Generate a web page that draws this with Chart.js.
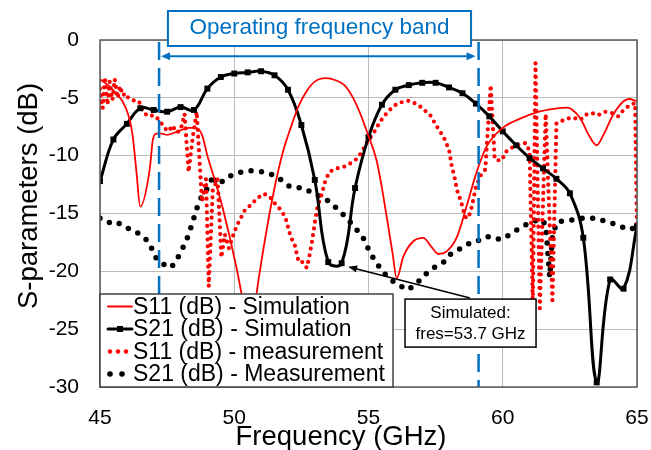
<!DOCTYPE html>
<html>
<head>
<meta charset="utf-8">
<script src="https://cdn.jsdelivr.net/npm/chart.js@4.4.1/dist/chart.umd.min.js"></script>
<style>
  html, body { margin: 0; padding: 0; background: #fff; }
  #wrap { width: 651px; height: 450px; }
</style>
</head>
<body>
<div id="wrap"><canvas id="sparams" width="651" height="450"></canvas></div>
<script>
// S11 simulation (thin red line)
const s11SimFreq = [45.0, 45.3, 45.55, 45.95, 46.2, 46.35, 46.5, 46.85, 46.97, 47.1, 47.3, 47.5, 47.9, 48.3, 48.55, 48.8, 49.0, 49.3, 49.6, 50.0, 50.3, 50.55, 50.85, 51.2, 51.5, 51.8, 52.1, 52.4, 52.7, 53.0, 53.4, 53.8, 54.1, 54.4, 54.7, 55.0, 55.3, 55.5, 55.7, 55.9, 56.05, 56.3, 56.67, 57.04, 57.35, 57.6, 57.9, 58.3, 58.65, 59.03, 59.4, 60.0, 60.65, 61.26, 61.9, 62.4, 62.6, 62.9, 63.2, 63.5, 63.75, 64.1, 64.5, 64.7, 65.0]
const s11SimDb = [-3.4, -3.9, -4.5, -5.8, -8.0, -11.2, -14.4, -11.2, -8.6, -8.1, -8.1, -8.2, -7.9, -7.6, -7.6, -8.2, -10.0, -12.3, -14.8, -18.8, -22.4, -27.0, -21.6, -16.5, -12.8, -9.8, -7.6, -5.7, -4.4, -3.6, -3.3, -3.5, -3.9, -4.9, -6.4, -8.3, -10.4, -12.8, -15.6, -18.5, -20.6, -18.7, -17.4, -17.1, -17.9, -18.5, -18.3, -17.0, -14.4, -11.4, -9.2, -7.6, -6.8, -6.25, -5.95, -5.85, -6.05, -6.8, -8.2, -9.1, -8.2, -6.5, -5.3, -5.1, -5.3]

// S21 simulation (black line with square markers, every 0.5 GHz)
const s21SimFreq = [45.0, 45.5, 46.0, 46.5, 47.0, 47.5, 48.0, 48.5, 49.0, 49.5, 50.0, 50.5, 51.0, 51.5, 52.0, 52.5, 53.0, 53.5, 54.0, 54.5, 55.0, 55.5, 56.0, 56.5, 57.0, 57.5, 58.0, 58.5, 59.0, 59.5, 60.0, 60.5, 61.0, 61.5, 62.0, 62.5, 63.0, 63.5, 64.0, 64.5, 65.0]
const s21SimDb = [-12.2, -8.6, -7.25, -5.9, -6.05, -6.2, -5.8, -6.05, -4.2, -3.2, -2.9, -2.8, -2.7, -3.05, -4.3, -7.35, -12.1, -19.2, -19.3, -12.8, -8.4, -5.6, -4.3, -3.9, -3.7, -3.7, -4.1, -4.6, -5.5, -6.6, -7.9, -9.1, -10.2, -11.1, -12.0, -13.25, -17.1, -29.6, -20.7, -21.5, -16.1]

// S11 measurement (red round dots)
const s11MeasFreq = [45.0, 45.1, 45.18, 45.28, 45.36, 45.46, 45.55, 45.65, 45.75, 45.85, 45.95, 46.05, 46.2, 46.45, 46.6, 46.8, 47.0, 47.2, 47.4, 47.55, 47.7, 47.85, 48.0, 48.15, 48.3, 48.45, 48.6, 48.8, 48.95, 49.05, 49.2, 49.38, 49.52, 49.65, 49.8, 50.0, 50.15, 50.4, 50.6, 50.85, 51.1, 51.3, 51.5, 51.7, 51.9, 52.1, 52.25, 52.4, 52.55, 52.7, 52.78, 52.9, 53.0, 53.1, 53.25, 53.4, 53.55, 53.8, 54.05, 54.3, 54.55, 54.75, 54.95, 55.2, 55.45, 55.65, 55.85, 56.1, 56.5, 56.85, 57.1, 57.3, 57.55, 57.8, 58.0, 58.1, 58.2, 58.3, 58.45, 58.6, 58.72, 58.85, 59.0, 59.2, 59.35, 59.55, 59.7, 59.85, 59.97, 60.1, 60.3, 60.55, 60.85, 61.0, 61.12, 61.22, 61.38, 61.6, 61.85, 62.0, 62.2, 62.4, 62.6, 62.9, 63.05, 63.3, 63.55, 63.8, 64.05, 64.3, 64.5, 64.75, 64.93, 65.0]
const s11MeasDb = [-4.2, -5.9, -3.2, -5.6, -3.6, -5.2, -3.4, -5.0, -4.0, -4.8, -4.6, -5.0, -5.2, -5.3, -6.2, -6.6, -6.5, -6.9, -7.6, -7.9, -7.4, -8.0, -7.8, -6.4, -11.4, -8.5, -6.2, -14.0, -12.0, -21.3, -13.0, -12.0, -18.8, -16.8, -18.0, -16.6, -15.8, -14.7, -14.3, -13.7, -13.3, -13.5, -14.1, -14.6, -15.3, -17.0, -17.7, -19.2, -19.2, -19.7, -18.9, -17.4, -15.8, -14.4, -13.4, -12.1, -11.4, -11.1, -11.0, -10.7, -10.3, -9.7, -8.8, -8.0, -7.0, -6.4, -5.9, -5.45, -5.25, -5.6, -6.1, -6.5, -7.5, -8.4, -9.5, -10.9, -11.8, -13.0, -14.0, -15.3, -15.4, -14.4, -12.7, -11.6, -11.2, -3.9, -10.3, -10.4, -10.4, -9.7, -9.35, -9.1, -8.9, -9.6, -23.0, -2.0, -23.2, -6.4, -22.5, -7.2, -7.0, -6.8, -6.7, -6.9, -6.5, -6.3, -6.5, -6.2, -6.3, -6.6, -6.05, -5.6, -5.45, -16.4]

// S21 measurement (black round dots)
const s21MeasFreq = [45.0, 45.2, 45.4, 45.6, 45.8, 46.05, 46.3, 46.5, 46.7, 46.86, 47.0, 47.1, 47.3, 47.45, 47.6, 47.75, 47.88, 48.1, 48.3, 48.47, 48.6, 48.79, 48.95, 49.1, 49.2, 49.35, 49.45, 49.6, 49.8, 50.0, 50.3, 50.6, 51.1, 51.5, 51.75, 51.95, 52.1, 52.57, 53.07, 53.44, 53.57, 53.9, 54.06, 54.3, 54.56, 54.8, 55.06, 55.3, 55.6, 55.8, 56.17, 56.4, 56.6, 56.86, 57.0, 57.2, 57.35, 57.5, 57.8, 58.0, 58.3, 58.5, 58.9, 59.2, 59.46, 59.75, 60.0, 60.4, 60.77, 61.0, 61.3, 61.45, 61.6, 61.75, 61.85, 62.0, 62.07, 62.5, 62.9, 63.4, 63.9, 64.37, 64.74, 65.0]
const s21MeasDb = [-15.4, -15.7, -15.8, -15.7, -16.0, -16.3, -16.5, -16.85, -17.2, -17.7, -18.4, -18.9, -19.3, -19.5, -19.7, -19.4, -18.9, -17.9, -16.85, -15.6, -14.6, -13.5, -13.0, -12.5, -11.7, -12.4, -12.5, -12.1, -11.8, -11.6, -11.4, -11.3, -11.4, -11.7, -12.1, -12.5, -12.7, -12.8, -13.4, -13.8, -14.1, -14.7, -15.1, -15.7, -16.4, -17.1, -18.4, -19.3, -20.2, -20.7, -21.2, -21.6, -21.4, -20.9, -20.5, -20.1, -19.8, -19.6, -19.2, -18.6, -18.2, -17.9, -17.4, -17.3, -17.0, -17.2, -17.2, -16.6, -16.1, -15.8, -15.55, -15.5, -16.0, -20.5, -17.0, -15.8, -15.7, -15.6, -15.4, -15.4, -15.7, -16.1, -16.4, -16.1]

// operating band edges and annotation anchors (GHz / dB)
const bandEdges = [47.2, 59.1]
const fresPoint = [54.24, -19.6]

const FONT = 'Arial, "Liberation Sans", sans-serif'
const BLUE = '#0070c0'

const toPoints = (xs, ys) => xs.map((x, i) => ({ x: x, y: ys[i] }))

function arrowHead (ctx, x0, y0, x1, y1, len, half) {
  // triangle pointing at (x1, y1) coming from (x0, y0)
  const a = Math.atan2(y1 - y0, x1 - x0)
  ctx.beginPath()
  ctx.moveTo(x1, y1)
  ctx.lineTo(x1 - len * Math.cos(a) + half * Math.sin(a), y1 - len * Math.sin(a) - half * Math.cos(a))
  ctx.lineTo(x1 - len * Math.cos(a) - half * Math.sin(a), y1 - len * Math.sin(a) + half * Math.cos(a))
  ctx.closePath()
  ctx.fill()
}

const overlayPlugin = {
  id: 'overlay',
  afterDraw (chart) {
    const { ctx, chartArea: area } = chart
    const x = chart.scales.x
    const y = chart.scales.y
    ctx.save()

    // dashed band edges
    ctx.strokeStyle = BLUE
    ctx.lineWidth = 2.5
    ctx.setLineDash([18, 8])
    bandEdges.forEach(f => {
      const px = x.getPixelForValue(f)
      ctx.beginPath()
      ctx.moveTo(px, area.top + 2)
      ctx.lineTo(px, area.bottom)
      ctx.stroke()
    })
    ctx.setLineDash([])

    // plot frame
    ctx.strokeStyle = '#595959'
    ctx.lineWidth = 1.5
    ctx.strokeRect(area.left, area.top, area.right - area.left, area.bottom - area.top)

    // axis titles (placed off-centre as in the original figure)
    ctx.fillStyle = '#000'
    ctx.font = '27.5px ' + FONT
    ctx.textAlign = 'center'
    ctx.textBaseline = 'middle'
    ctx.fillText('Frequency (GHz)', 341, 437)
    ctx.save()
    ctx.translate(29, 196)
    ctx.rotate(-Math.PI / 2)
    ctx.fillText('S-parameters (dB)', 0, 0)
    ctx.restore()

    // double arrow for the band
    const ay = y.getPixelForValue(-1.4)
    const ax0 = x.getPixelForValue(bandEdges[0]) + 2
    const ax1 = x.getPixelForValue(bandEdges[1]) - 3
    ctx.strokeStyle = BLUE
    ctx.fillStyle = BLUE
    ctx.lineWidth = 2
    ctx.beginPath()
    ctx.moveTo(ax0 + 6, ay)
    ctx.lineTo(ax1 - 6, ay)
    ctx.stroke()
    arrowHead(ctx, ax1, ay, ax0, ay, 9, 4)
    arrowHead(ctx, ax0, ay, ax1, ay, 9, 4)

    // band label box
    const bx0 = x.getPixelForValue(47.53)
    const bx1 = x.getPixelForValue(58.82)
    ctx.fillStyle = '#fff'
    ctx.fillRect(bx0, area.top - 29, bx1 - bx0, 35)
    ctx.strokeStyle = BLUE
    ctx.lineWidth = 2
    ctx.strokeRect(bx0, area.top - 29, bx1 - bx0, 35)
    ctx.fillStyle = BLUE
    ctx.font = '22.5px ' + FONT
    ctx.fillText('Operating frequency band', (bx0 + bx1) / 2, area.top - 12)

    // simulated resonance callout
    const tx = x.getPixelForValue(fresPoint[0])
    const ty = y.getPixelForValue(fresPoint[1])
    const lx = x.getPixelForValue(58.78)
    const ly = y.getPixelForValue(-22.3)
    ctx.strokeStyle = '#000'
    ctx.fillStyle = '#000'
    ctx.lineWidth = 1.5
    ctx.beginPath()
    ctx.moveTo(lx, ly)
    ctx.lineTo(tx + 4, ty + 1)
    ctx.stroke()
    arrowHead(ctx, lx, ly, tx, ty, 9, 3.5)

    const sx0 = x.getPixelForValue(56.36)
    const sx1 = x.getPixelForValue(61.24)
    const sy0 = y.getPixelForValue(-22.4)
    const sy1 = y.getPixelForValue(-26.55)
    ctx.fillStyle = '#fff'
    ctx.fillRect(sx0, sy0, sx1 - sx0, sy1 - sy0)
    ctx.strokeRect(sx0, sy0, sx1 - sx0, sy1 - sy0)
    ctx.fillStyle = '#000'
    ctx.font = '17px ' + FONT
    ctx.fillText('Simulated:', (sx0 + sx1) / 2, sy0 + 14)
    ctx.fillText('fres=53.7 GHz', (sx0 + sx1) / 2, sy0 + 35)

    // legend box inside the plot
    const lg = { left: area.left, top: 294, right: 393, bottom: area.bottom }
    ctx.fillStyle = '#fff'
    ctx.fillRect(lg.left, lg.top, lg.right - lg.left, lg.bottom - lg.top)
    ctx.strokeStyle = '#404040'
    ctx.lineWidth = 1.5
    ctx.strokeRect(lg.left, lg.top, lg.right - lg.left, lg.bottom - lg.top)

    const rows = [306.5, 329, 351.5, 374]
    const sx = 108
    const ex = 132
    ctx.lineCap = 'round'
    // S11 sim
    ctx.strokeStyle = '#ff0000'
    ctx.lineWidth = 1.8
    ctx.beginPath(); ctx.moveTo(sx, rows[0]); ctx.lineTo(ex, rows[0]); ctx.stroke()
    // S21 sim
    ctx.strokeStyle = '#000'
    ctx.fillStyle = '#000'
    ctx.lineWidth = 3
    ctx.beginPath(); ctx.moveTo(sx, rows[1]); ctx.lineTo(ex, rows[1]); ctx.stroke()
    ctx.fillRect(120 - 3, rows[1] - 3, 6, 6)
    // S11 meas
    ctx.fillStyle = '#ff0000'
    ;[110, 118, 126].forEach(px => { ctx.beginPath(); ctx.arc(px, rows[2], 2.2, 0, Math.PI * 2); ctx.fill() })
    // S21 meas
    ctx.fillStyle = '#000'
    ;[110, 122].forEach(px => { ctx.beginPath(); ctx.arc(px, rows[3], 2.8, 0, Math.PI * 2); ctx.fill() })

    ctx.fillStyle = '#000'
    ctx.font = '23px ' + FONT
    ctx.textAlign = 'left'
    ctx.fillText('S11 (dB) - Simulation', 133, rows[0] + 1)
    ctx.fillText('S21 (dB) - Simulation', 133, rows[1] + 1)
    ctx.fillText('S11 (dB) - measurement', 133, rows[2] + 1)
    ctx.fillText('S21 (dB) - Measurement', 133, rows[3] + 1)

    ctx.restore()
  }
}

const ctx = document.getElementById('sparams').getContext('2d')
const chart = new Chart(ctx, {
  type: 'scatter',
  data: {
    datasets: [
      {
        label: 'S11 (dB) - Simulation',
        data: toPoints(s11SimFreq, s11SimDb),
        showLine: true,
        borderColor: '#ff0000',
        borderWidth: 1.8,
        pointRadius: 0,
        cubicInterpolationMode: 'monotone'
      },
      {
        label: 'S21 (dB) - Simulation',
        data: toPoints(s21SimFreq, s21SimDb),
        showLine: true,
        borderColor: '#000',
        backgroundColor: '#000',
        borderWidth: 3,
        pointStyle: 'rect',
        pointRadius: 4.2,
        pointBorderWidth: 0,
        tension: 0.4
      },
      {
        label: 'S11 (dB) - measurement',
        data: toPoints(s11MeasFreq, s11MeasDb),
        showLine: true,
        borderColor: '#ff0000',
        borderWidth: 4.2,
        borderDash: [0, 6.8],
        borderCapStyle: 'round',
        pointRadius: 0
      },
      {
        label: 'S21 (dB) - Measurement',
        data: toPoints(s21MeasFreq, s21MeasDb),
        showLine: true,
        borderColor: '#000',
        borderWidth: 5.5,
        borderDash: [0, 10.5],
        borderCapStyle: 'round',
        pointRadius: 0
      }
    ]
  },
  options: {
    responsive: false,
    animation: false,
    layout: { padding: { top: 40, right: 14, left: 0, bottom: 0 } },
    scales: {
      x: {
        type: 'linear',
        min: 45,
        max: 65,
        afterFit: scale => {
          scale.height = 63
          scale.paddingLeft = 0
          scale.paddingRight = 0
        },
        ticks: { stepSize: 5, color: '#000', padding: 19, font: { family: FONT, size: 21 } },
        grid: { color: '#bcbcbc', lineWidth: 1, drawTicks: false },
        border: { display: false },
        title: { display: false }
      },
      y: {
        min: -30,
        max: 0,
        afterFit: scale => {
          scale.width = 100
          scale.paddingTop = 0
          scale.paddingBottom = 0
        },
        ticks: { stepSize: 5, color: '#000', padding: 21, font: { family: FONT, size: 21 } },
        grid: { color: '#bcbcbc', lineWidth: 1, drawTicks: false },
        border: { display: false },
        title: { display: false }
      }
    },
    plugins: {
      legend: { display: false },
      tooltip: { enabled: false }
    }
  },
  plugins: [overlayPlugin]
})
</script>
</body>
</html>
